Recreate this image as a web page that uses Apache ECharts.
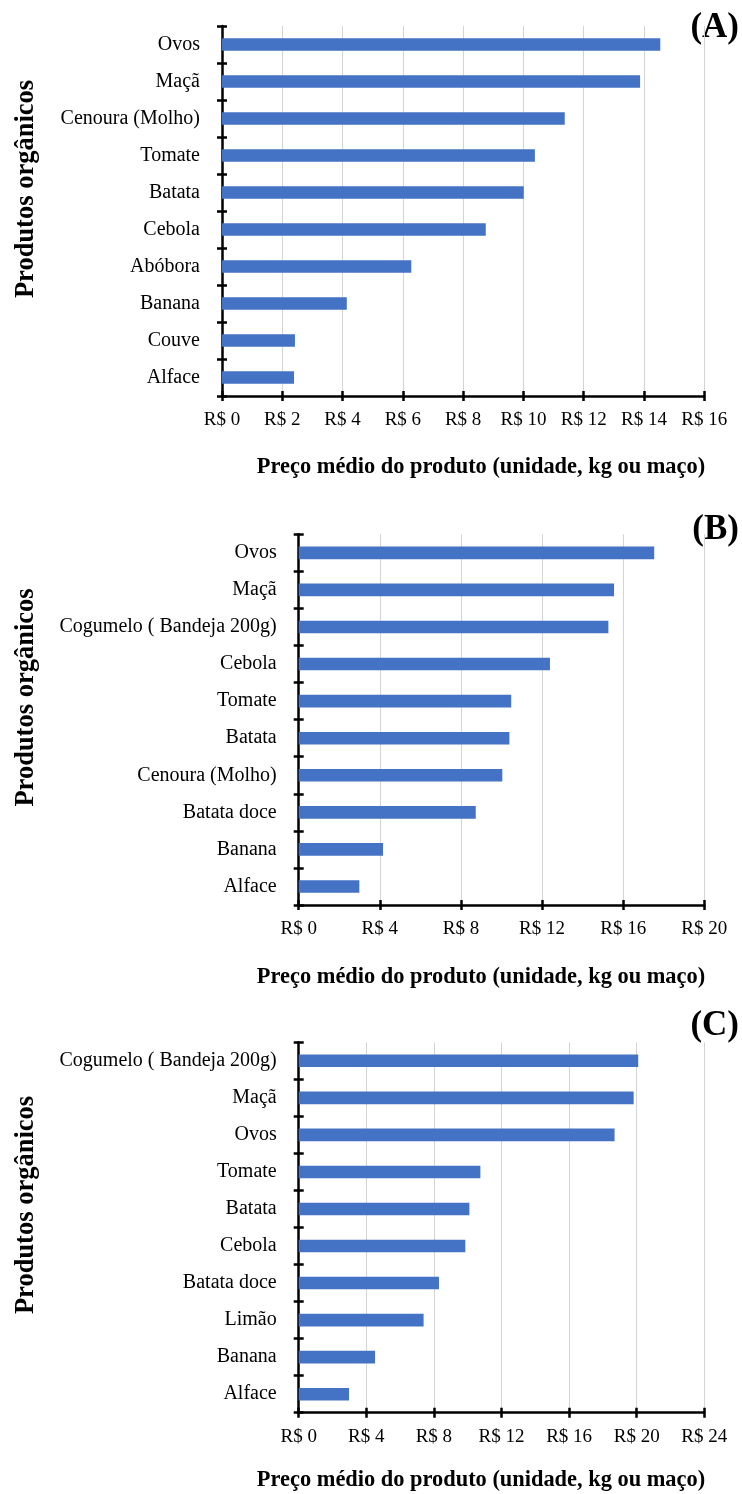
<!DOCTYPE html>
<html>
<head>
<meta charset="utf-8">
<script src="https://cdn.jsdelivr.net/npm/echarts@6/dist/echarts.min.js"></script>
<style>
html,body{margin:0;padding:0;background:#fff;}
#chart{width:742px;height:1494px;}
</style>
</head>
<body>
<div id="chart"></div>
<script>
// ---- data ----
const catsA = ['Ovos','Maçã','Cenoura (Molho)','Tomate','Batata','Cebola','Abóbora','Banana','Couve','Alface'];
const valsA = [14.54, 13.87, 11.37, 10.38, 10.01, 8.75, 6.28, 4.14, 2.42, 2.39];
const catsB = ['Ovos','Maçã','Cogumelo ( Bandeja 200g)','Cebola','Tomate','Batata','Cenoura (Molho)','Batata doce','Banana','Alface'];
const valsB = [17.53, 15.55, 15.27, 12.39, 10.48, 10.39, 10.04, 8.73, 4.16, 2.99];
const catsC = ['Cogumelo ( Bandeja 200g)','Maçã','Ovos','Tomate','Batata','Cebola','Batata doce','Limão','Banana','Alface'];
const valsC = [20.09, 19.82, 18.69, 10.75, 10.10, 9.86, 8.30, 7.39, 4.52, 2.98];
const axisMaxes = [16, 20, 24];
const axisSteps = [2, 4, 4];
const panelLabels = ['(A)', '(B)', '(C)'];
const xName = 'Preço médio do produto (unidade, kg ou maço)';
const yName = 'Produtos orgânicos';
const currency = 'R$ ';

const FONT = "'Liberation Serif', 'Times New Roman', serif";
const panels = [
  {cats: catsA, vals: valsA, grid: {left: 222, right: 37.7, top: 26, height: 370}, nameY: 467, yNameY: 189, labY: 27.5},
  {cats: catsB, vals: valsB, grid: {left: 298.7, right: 37.7, top: 534.3, height: 370.7}, nameY: 977.5, yNameY: 697.5, labY: 529.5},
  {cats: catsC, vals: valsC, grid: {left: 298.7, right: 37.7, top: 1042.3, height: 370.4}, nameY: 1480, yNameY: 1205, labY: 1026}
];

const grid = [], xAxis = [], yAxis = [], series = [], graphic = [];
panels.forEach((p, i) => {
  grid.push(Object.assign({containLabel: false}, p.grid));
  const lineStyle = {color: '#000', width: 2.5};
  xAxis.push({
    type: 'value', gridIndex: i, min: 0, max: axisMaxes[i], interval: axisSteps[i],
    axisLine: {show: true, lineStyle: lineStyle},
    axisTick: {show: true, inside: false, length: 5, lineStyle: {color: '#000', width: 2.5}},
    axisLabel: {formatter: v => currency + v, fontFamily: FONT, fontSize: 19, color: '#000', margin: 15},
    splitLine: {show: true, lineStyle: {color: '#d4d4d4', width: 1}}
  });
  xAxis.push({
    type: 'value', gridIndex: i, min: 0, max: axisMaxes[i], interval: axisSteps[i], position: 'bottom',
    axisLine: {show: false},
    axisTick: {show: true, inside: true, length: 5, lineStyle: {color: '#000', width: 2.5}},
    axisLabel: {show: false}, splitLine: {show: false}
  });
  yAxis.push({
    type: 'category', gridIndex: i, data: p.cats, inverse: true,
    axisLine: {show: true, lineStyle: lineStyle},
    axisTick: {show: true, inside: false, length: 5, lineStyle: {color: '#000', width: 2.5}},
    axisLabel: {fontFamily: FONT, fontSize: 20, color: '#000', margin: 22},
    splitLine: {show: false}
  });
  yAxis.push({
    type: 'category', gridIndex: i, data: p.cats, inverse: true, position: 'left',
    axisLine: {show: false},
    axisTick: {show: true, inside: true, length: 5, lineStyle: {color: '#000', width: 2.5}},
    axisLabel: {show: false}, splitLine: {show: false}
  });
  series.push({
    type: 'bar', xAxisIndex: i * 2, yAxisIndex: i * 2, data: p.vals,
    barWidth: '34%', itemStyle: {color: '#4472C4'}, silent: true, animation: false
  });
  graphic.push({
    type: 'text', x: 481, y: p.nameY,
    style: {text: xName, font: "bold 22.4px " + FONT, fill: '#000', textAlign: 'center', textVerticalAlign: 'middle'}
  });
  graphic.push({
    type: 'text', x: 26.5, y: p.yNameY, rotation: Math.PI / 2,
    style: {text: yName, font: "bold 26.5px " + FONT, fill: '#000', textAlign: 'center', textVerticalAlign: 'middle'}
  });
  graphic.push({
    type: 'text', x: 739, y: p.labY,
    style: {text: panelLabels[i], font: "bold 35px " + FONT, fill: '#000', textAlign: 'right', textVerticalAlign: 'middle'}
  });
});

const chart = echarts.init(document.getElementById('chart'), null, {renderer: 'canvas'});
chart.setOption({
  animation: false,
  backgroundColor: '#fff',
  grid, xAxis, yAxis, series, graphic
});
</script>
</body>
</html>
